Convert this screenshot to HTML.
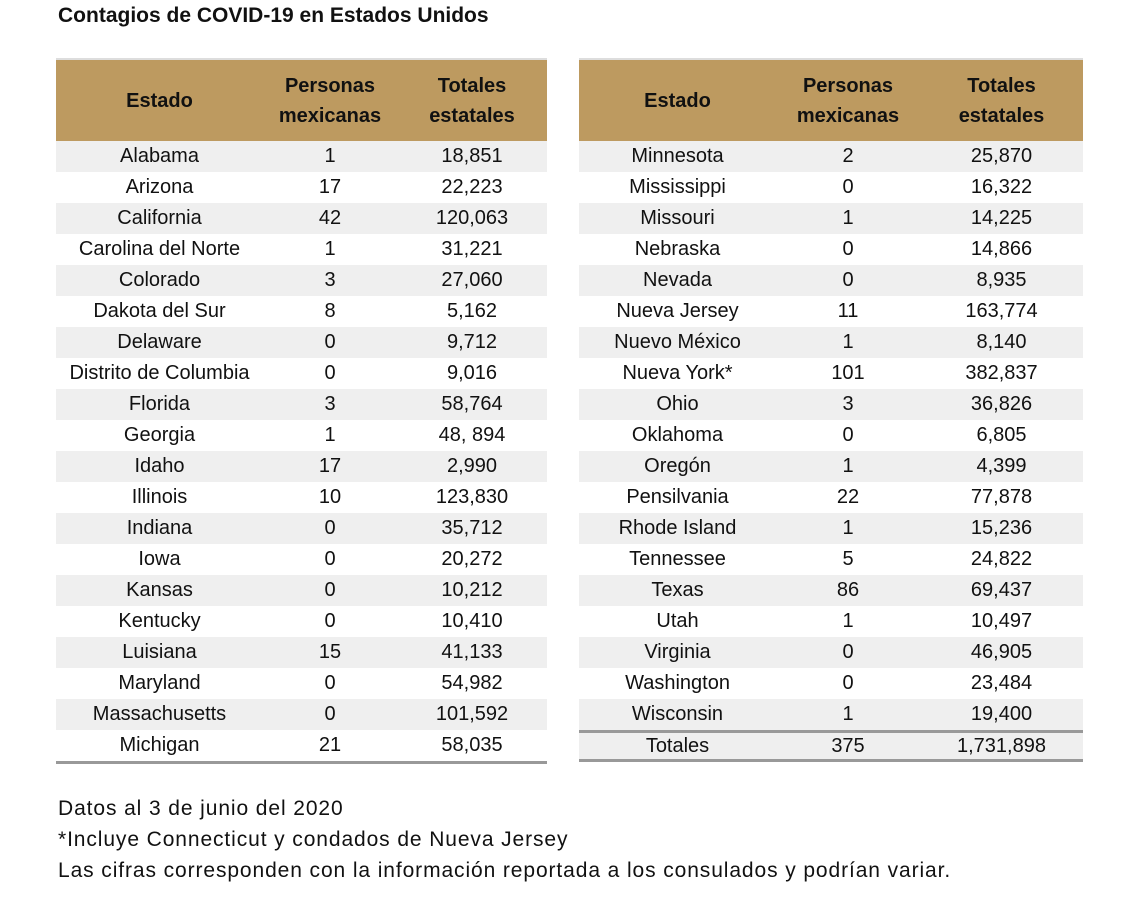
<!DOCTYPE html>
<html><head><meta charset="utf-8"><style>
body{margin:0;width:1138px;height:897px;background:#fff;font-family:"Liberation Sans",sans-serif;color:#111;position:relative;overflow:hidden}
.t{position:absolute;top:4px;left:58px;font-size:21px;font-weight:bold;line-height:24px}
table{position:absolute;top:58px;border-collapse:collapse;font-size:20px}
th{background:#bd9a60;font-weight:bold;height:81px;padding:0;line-height:30px;border-top:2px solid #ddd;font-size:20px}
td{height:31px;padding:0;text-align:center;line-height:31px}
tr.g td{background:#efefef}
tbody tr:last-child td{border-bottom:3px solid #999;height:29px}
tr.tot td{border-top:3px solid #999;height:26px!important;line-height:26px}
.n{position:absolute;left:58px;font-size:21px;line-height:31px;letter-spacing:0.9px}
</style></head><body>
<div class="t">Contagios de COVID-19 en Estados Unidos</div>
<table style="left:56px;width:491px">
<colgroup><col style="width:207px"><col style="width:134px"><col style="width:150px"></colgroup>
<thead><tr><th>Estado</th><th>Personas<br>mexicanas</th><th>Totales<br>estatales</th></tr></thead>
<tbody>
<tr class="g"><td>Alabama</td><td>1</td><td>18,851</td></tr>
<tr><td>Arizona</td><td>17</td><td>22,223</td></tr>
<tr class="g"><td>California</td><td>42</td><td>120,063</td></tr>
<tr><td>Carolina del Norte</td><td>1</td><td>31,221</td></tr>
<tr class="g"><td>Colorado</td><td>3</td><td>27,060</td></tr>
<tr><td>Dakota del Sur</td><td>8</td><td>5,162</td></tr>
<tr class="g"><td>Delaware</td><td>0</td><td>9,712</td></tr>
<tr><td>Distrito de Columbia</td><td>0</td><td>9,016</td></tr>
<tr class="g"><td>Florida</td><td>3</td><td>58,764</td></tr>
<tr><td>Georgia</td><td>1</td><td>48, 894</td></tr>
<tr class="g"><td>Idaho</td><td>17</td><td>2,990</td></tr>
<tr><td>Illinois</td><td>10</td><td>123,830</td></tr>
<tr class="g"><td>Indiana</td><td>0</td><td>35,712</td></tr>
<tr><td>Iowa</td><td>0</td><td>20,272</td></tr>
<tr class="g"><td>Kansas</td><td>0</td><td>10,212</td></tr>
<tr><td>Kentucky</td><td>0</td><td>10,410</td></tr>
<tr class="g"><td>Luisiana</td><td>15</td><td>41,133</td></tr>
<tr><td>Maryland</td><td>0</td><td>54,982</td></tr>
<tr class="g"><td>Massachusetts</td><td>0</td><td>101,592</td></tr>
<tr><td>Michigan</td><td>21</td><td>58,035</td></tr>
</tbody></table>
<table style="left:579px;width:504px">
<colgroup><col style="width:197px"><col style="width:144px"><col style="width:163px"></colgroup>
<thead><tr><th>Estado</th><th>Personas<br>mexicanas</th><th>Totales<br>estatales</th></tr></thead>
<tbody>
<tr class="g"><td>Minnesota</td><td>2</td><td>25,870</td></tr>
<tr><td>Mississippi</td><td>0</td><td>16,322</td></tr>
<tr class="g"><td>Missouri</td><td>1</td><td>14,225</td></tr>
<tr><td>Nebraska</td><td>0</td><td>14,866</td></tr>
<tr class="g"><td>Nevada</td><td>0</td><td>8,935</td></tr>
<tr><td>Nueva Jersey</td><td>11</td><td>163,774</td></tr>
<tr class="g"><td>Nuevo México</td><td>1</td><td>8,140</td></tr>
<tr><td>Nueva York*</td><td>101</td><td>382,837</td></tr>
<tr class="g"><td>Ohio</td><td>3</td><td>36,826</td></tr>
<tr><td>Oklahoma</td><td>0</td><td>6,805</td></tr>
<tr class="g"><td>Oregón</td><td>1</td><td>4,399</td></tr>
<tr><td>Pensilvania</td><td>22</td><td>77,878</td></tr>
<tr class="g"><td>Rhode Island</td><td>1</td><td>15,236</td></tr>
<tr><td>Tennessee</td><td>5</td><td>24,822</td></tr>
<tr class="g"><td>Texas</td><td>86</td><td>69,437</td></tr>
<tr><td>Utah</td><td>1</td><td>10,497</td></tr>
<tr class="g"><td>Virginia</td><td>0</td><td>46,905</td></tr>
<tr><td>Washington</td><td>0</td><td>23,484</td></tr>
<tr class="g"><td>Wisconsin</td><td>1</td><td>19,400</td></tr>
<tr class="tot g"><td>Totales</td><td>375</td><td>1,731,898</td></tr>
</tbody></table>
<div class="n" style="top:793px">Datos al 3 de junio del 2020</div>
<div class="n" style="top:824px">*Incluye Connecticut y condados de Nueva Jersey</div>
<div class="n" style="top:855px">Las cifras corresponden con la información reportada a los consulados y podrían variar.</div>
</body></html>
